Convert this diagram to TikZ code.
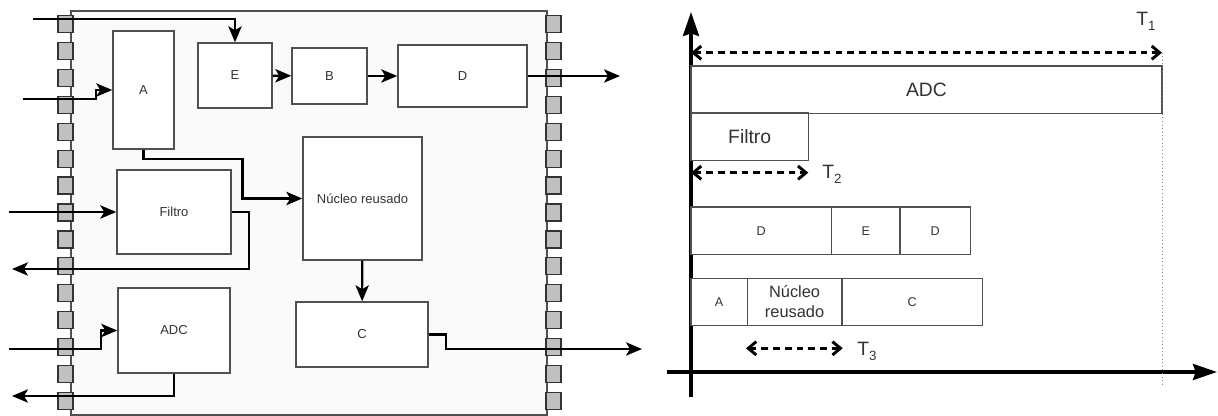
\documentclass[tikz,border=0pt]{standalone}
\usepackage{fontspec}
\setmainfont{Liberation Sans}
\usetikzlibrary{positioning,arrows.meta}
\definecolor{pingray}{HTML}{C0C0C0}
\definecolor{chipgray}{HTML}{FAFAFA}
\definecolor{edgegray}{HTML}{505050}
\definecolor{labelgray}{HTML}{333333}
\tikzset{
    block/.style={
        rectangle,
        draw=edgegray,
        line width=1.1pt,
        fill=white,
        text=labelgray,
        inner sep=0pt,
        font={\fontsize{9.75pt}{11pt}\selectfont}
    },
    bar/.style={
        rectangle,
        draw=edgegray,
        line width=1.1pt,
        fill=white,
        text=labelgray,
        inner sep=0pt,
        outer sep=0pt,
        minimum height=35.5pt,
        align=center,
        font={\fontsize{9.5pt}{11pt}\selectfont}
    },
    bigbar/.style={bar, font={\fontsize{14.5pt}{16pt}\selectfont}},
    wire/.style={draw, line width=1.6pt, -{Stealth[length=12pt,width=10pt,inset=3pt]}},
    axis/.style={draw, line width=2.6pt, -{Stealth[length=18pt,width=12pt,inset=2pt]}},
    span/.style={draw, line width=2.2pt, dash pattern=on 5pt off 3.8pt,
        {Straight Barb[length=6pt,width=10pt]}-{Straight Barb[length=6pt,width=10pt]}},
}
\newcommand{\tsub}[1]{T\raisebox{-0.45ex}{\fontsize{10pt}{11pt}\selectfont #1}}

\begin{document}
\begin{tikzpicture}[x=0.75pt,y=-0.75pt]
\useasboundingbox (0,0) rectangle (1218,416);
\tikzstyle{pin} = [rectangle, draw=black!80, fill=pingray, line width=1pt, minimum width=11.25pt, minimum height=12.75pt, inner sep=0pt]
\tikzstyle{tlabel} = [anchor=base west, inner sep=0pt, text=labelgray, font={\fontsize{14.5pt}{16pt}\selectfont}]

% Chip and pins
\node[rectangle, draw=edgegray, line width=1.2pt, fill=chipgray, minimum width=357pt, minimum height=303pt] (chip) at (309,213) {};
\foreach \k in {0,...,14} {
  \node[pin] (pl\k) at (65.5,24.2+26.9*\k) {};
  \node[pin] (pr\k) at (553.5,24.2+26.9*\k) {};
}

% Blocks
\node[block, minimum width=45.75pt, minimum height=88.5pt] (a) at (143.5,90) {A};
\node[block, minimum width=55.5pt, minimum height=48.75pt] (e) at (235,75.5) {E};
\node[block, minimum width=56.25pt, minimum height=42pt] (b) at (329.5,76) {B};
\node[block, minimum width=96.75pt, minimum height=46.5pt] (d) at (462.5,76) {D};
\node[block, minimum width=89.25pt, minimum height=92.25pt] (nucleo) at (362.5,198.5) {Núcleo reusado};
\node[block, minimum width=85.5pt, minimum height=63pt] (filtro) at (174,212) {Filtro};
\node[block, minimum width=84pt, minimum height=63.75pt] (adc) at (174,330.5) {ADC};
\node[block, minimum width=99pt, minimum height=48.75pt] (c) at (362,334.5) {C};

% Ports
\coordinate (inE) at (33,19.3);
\coordinate (inA) at (23,99);
\coordinate (outD) at (620,76);
\coordinate (inF) at (9,212);
\coordinate (outF) at (12,269);
\coordinate (inADC) at (9,349);
\coordinate (outADC) at (12,396);
\coordinate (outC) at (642,349);

% Wires
\draw[wire] (inE) -| (e.north);
\draw[wire] (inA) -- ++(73,0) |- (a.west);
\draw[wire] (a.south) -- ++(0,9) -- ++(99,0) |- (nucleo.west);
\draw[wire] (e) -- (b);
\draw[wire] (b) -- (d);
\draw[wire] (d.east) -- (outD);
\draw[wire] (inF) -- (filtro.west);
\draw[wire] (filtro.east) -- ++(17,0) |- (outF);
\draw[wire] (inADC) -- ++(92,0) |- (adc.west);
\draw[wire] (adc.south) |- (outADC);
\draw[wire] (nucleo) -- (c);
\draw[wire] (c.east) -- ++(17,0) |- (outC);

% Timing axes
\coordinate (ybot) at (691,397);
\coordinate (ytop) at (691,12);
\coordinate (xleft) at (667,372);
\coordinate (xright) at (1217,372);
\draw[axis] (ybot) -- (ytop);
\draw[axis] (xleft) -- (xright);

% Bars
\node[bigbar, minimum width=353.25pt] (adcbar) at (926.5,89.7) {ADC};
\node[bigbar, minimum width=88pt] (filtrobar) at (749.7,136.7) {Filtro};
\node[bar, minimum width=105.5pt] (dbar1) at (761.3,230.8) {D};
\node[bar, minimum width=51.25pt, right=0pt of dbar1] (ebar) {E};
\node[bar, minimum width=53pt, right=0pt of ebar] (dbar2) {D};
\node[bar, minimum width=42.25pt] (abar) at (719.2,302) {A};
\node[bar, minimum width=70.8pt, right=0pt of abar, font={\fontsize{12.3pt}{15pt}\selectfont}] (nucleobar) {Núcleo\\reusado};
\node[bar, minimum width=105.5pt, right=0pt of nucleobar] (cbar) {C};

% Spans
\coordinate (t1a) at (691,52.7);
\coordinate (t1b) at (1162,52.7);
\coordinate (t1end) at (1162,387);
\coordinate (t2a) at (691,172.7);
\coordinate (t2b) at (808.3,172.7);
\coordinate (t3a) at (746,348.3);
\coordinate (t3b) at (842.7,348.3);
\draw[gray, dotted, line width=0.7pt] (t1b) -- (t1end);
\draw[span] (t1a) -- (t1b);
\draw[span] (t2a) -- (t2b);
\draw[span] (t3a) -- (t3b);
\node[tlabel] (t1) at (1136,26) {\tsub{1}};
\node[tlabel] (t2) at (822,179) {\tsub{2}};
\node[tlabel] (t3) at (857,356) {\tsub{3}};
\end{tikzpicture}
\end{document}
